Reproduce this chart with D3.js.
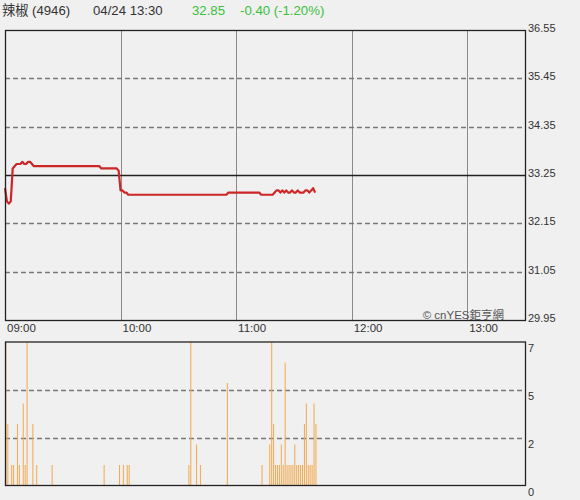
<!DOCTYPE html>
<html><head><meta charset="utf-8">
<script src="https://cdn.jsdelivr.net/npm/d3@7"></script>
<style>
html,body{margin:0;padding:0;background:#f0f0f0;}
svg{display:block;font-family:"Liberation Sans",Arial,"Noto Sans CJK TC",sans-serif;}
</style></head><body>
<svg id="c" width="580" height="500"></svg>
<script>
// ---- data ----
const title = "辣椒 (4946)";
const stamp = "04/24 13:30";
const lastPrice = "32.85";
const change = "-0.40 (-1.20%)";
const prevClose = 33.25;
const priceTicks = [29.95, 31.05, 32.15, 33.25, 34.35, 35.45, 36.55];
const timeTicks = ["09:00", "10:00", "11:00", "12:00", "13:00"];
const volTicks = [0, 7/3, 14/3, 7];
const volTickLabels = ["0", "2", "5", "7"];
// one value per minute from 09:00
const prices = [
 32.95,32.65,32.60,32.65,33.40,33.45,33.50,33.50,33.50,33.55,
 33.50,33.50,33.55,33.55,33.50,33.45,33.45,33.45,33.45,33.45,
 33.45,33.45,33.45,33.45,33.45,33.45,33.45,33.45,33.45,33.45,
 33.45,33.45,33.45,33.45,33.45,33.45,33.45,33.45,33.45,33.45,
 33.45,33.45,33.45,33.45,33.45,33.45,33.45,33.45,33.45,33.45,
 33.40,33.40,33.40,33.40,33.40,33.40,33.40,33.40,33.40,33.35,
 32.90,32.90,32.85,32.85,32.80,32.80,32.80,32.80,32.80,32.80,
 32.80,32.80,32.80,32.80,32.80,32.80,32.80,32.80,32.80,32.80,
 32.80,32.80,32.80,32.80,32.80,32.80,32.80,32.80,32.80,32.80,
 32.80,32.80,32.80,32.80,32.80,32.80,32.80,32.80,32.80,32.80,
 32.80,32.80,32.80,32.80,32.80,32.80,32.80,32.80,32.80,32.80,
 32.80,32.80,32.80,32.80,32.80,32.80,32.85,32.85,32.85,32.85,
 32.85,32.85,32.85,32.85,32.85,32.85,32.85,32.85,32.85,32.85,
 32.85,32.85,32.85,32.80,32.80,32.80,32.80,32.80,32.80,32.80,
 32.85,32.90,32.90,32.85,32.90,32.85,32.90,32.85,32.85,32.90,
 32.85,32.85,32.90,32.85,32.85,32.85,32.90,32.90,32.85,32.90,
 32.95,32.85
];
const volumes = [
 7,3,0,1,1,0,3,1,0,4,
 1,7,0,0,3,0,1,0,0,0,
 0,0,0,0,1,0,0,0,0,0,
 0,0,0,0,0,0,0,0,0,0,
 0,0,0,0,0,0,0,0,0,0,
 0,1,0,0,0,0,0,0,0,1,
 0,1,0,1,1,0,0,0,0,0,
 0,0,0,0,0,0,0,0,0,0,
 0,0,0,0,0,0,0,0,0,0,
 0,0,0,0,0,1,7,0,0,2,
 0,1,0,0,0,0,0,0,0,0,
 0,0,0,0,0,5,0,0,0,0,
 0,0,0,0,0,0,0,0,0,0,
 0,0,0,1,0,0,0,2,7,3,
 1,1,1,2,1,6,1,1,1,1,
 2,1,1,1,1,3,4,1,1,1,
 4,3
];

// ---- chart ----
const svg = d3.select("#c");
const L = 5, R = 525, PT = 30, PB = 320, VT = 342, VB = 485.5;
const t0 = new Date(2024, 3, 24, 9, 0);
const tEnd = new Date(2024, 3, 24, 13, 30);
const tAt = i => new Date(t0.getTime() + i * 60000);
const parse = d3.timeParse("%H:%M");
const tick = s => { const p = parse(s); return new Date(2024, 3, 24, p.getHours(), p.getMinutes()); };

const x = d3.scaleTime().domain([t0, tEnd]).range([L, R]);
const y = d3.scaleLinear().domain([priceTicks[0], priceTicks[priceTicks.length-1]]).range([PB, PT]);
const yv = d3.scaleLinear().domain([0, 7]).range([VB, VT]);

// header
const hdr = svg.append("g").attr("font-size", 13.2).attr("dominant-baseline", "central");
hdr.append("text").attr("x", 2).attr("y", 10).attr("fill", "#333").text(title);
hdr.append("text").attr("x", 93).attr("y", 10).attr("fill", "#333").text(stamp);
hdr.append("text").attr("x", 192).attr("y", 10).attr("fill", "#3cbf3c").text(lastPrice);
hdr.append("text").attr("x", 240).attr("y", 10).attr("fill", "#3cbf3c").text(change);

// price panel grid
svg.append("g").selectAll("line").data(timeTicks.slice(1)).join("line")
  .attr("x1", d => Math.round(x(tick(d))) + 0.5).attr("x2", d => Math.round(x(tick(d))) + 0.5)
  .attr("y1", PT).attr("y2", PB).attr("stroke", "#8a8a8a").attr("stroke-width", 1);
svg.append("g").selectAll("line").data(priceTicks.slice(1, -1).filter(d => d !== prevClose)).join("line")
  .attr("x1", L).attr("x2", R).attr("y1", d => Math.round(y(d)) + 0.5).attr("y2", d => Math.round(y(d)) + 0.5)
  .attr("stroke", "#777").attr("stroke-width", 1.4).attr("stroke-dasharray", "5,3");
svg.append("line").attr("x1", L).attr("x2", R)
  .attr("y1", Math.round(y(prevClose)) + 0.5).attr("y2", Math.round(y(prevClose)) + 0.5)
  .attr("stroke", "#222").attr("stroke-width", 1.5);

// watermark
svg.append("text").attr("x", 504).attr("y", 315).attr("text-anchor", "end")
  .attr("dominant-baseline", "central").attr("font-size", 11.5).attr("fill", "#555").text("© cnYES鉅亨網");

// price line
svg.append("path").datum(prices)
  .attr("fill", "none").attr("stroke", "#cc2626").attr("stroke-width", 2.2)
  .attr("stroke-linejoin", "round")
  .attr("d", d3.line().x((d, i) => x(tAt(i))).y(d => y(d)));

// price frame
svg.append("rect").attr("x", L + 0.5).attr("y", PT + 0.5).attr("width", R - L).attr("height", PB - PT)
  .attr("fill", "none").attr("stroke", "#222").attr("stroke-width", 1.3);

// price axis labels
svg.append("g").attr("font-size", 11).attr("fill", "#333").selectAll("text").data(priceTicks).join("text")
  .attr("x", 528).attr("y", d => y(d) - 2).attr("dominant-baseline", "central").text(d => d.toFixed(2));

// time labels
svg.append("g").attr("font-size", 11.5).attr("fill", "#333").selectAll("text").data(timeTicks).join("text")
  .attr("x", d => x(tick(d)) + 2).attr("y", 328).attr("dominant-baseline", "central").text(d => d);

// volume grid
svg.append("g").selectAll("line").data(volTicks.slice(1, -1)).join("line")
  .attr("x1", L).attr("x2", R).attr("y1", d => Math.round(yv(d)) + 0.5).attr("y2", d => Math.round(yv(d)) + 0.5)
  .attr("stroke", "#777").attr("stroke-width", 1.4).attr("stroke-dasharray", "5,3");

// volume bars
svg.append("g").selectAll("rect").data(volumes.map((v, i) => ({v, i})).filter(d => d.v > 0)).join("rect")
  .attr("x", d => x(tAt(d.i)) + 0.4).attr("width", 1)
  .attr("y", d => yv(Math.min(d.v, 7))).attr("height", d => yv(0) - yv(Math.min(d.v, 7)))
  .attr("fill", "#f2a84e");

// volume frame
svg.append("rect").attr("x", L + 0.5).attr("y", VT).attr("width", R - L).attr("height", VB - VT)
  .attr("fill", "none").attr("stroke", "#222").attr("stroke-width", 1.3);

// volume labels
svg.append("g").attr("font-size", 11).attr("fill", "#333").selectAll("text").data(volTicks).join("text")
  .attr("x", 528).attr("y", d => yv(d) + 6).attr("dominant-baseline", "central")
  .text((d, i) => volTickLabels[i]);
</script>
</body></html>
